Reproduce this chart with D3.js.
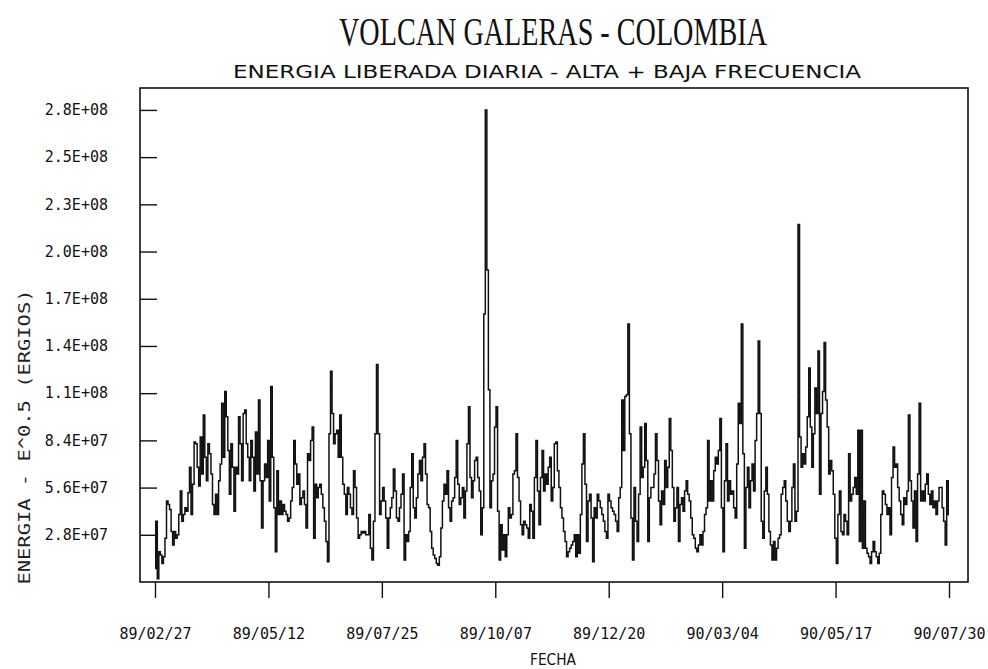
<!DOCTYPE html>
<html>
<head>
<meta charset="utf-8">
<script src="https://cdn.jsdelivr.net/npm/d3@7"></script>
<style>
  body { margin: 0; background: #fff; }
  svg { display: block; }
  .tick text { font-family: "DejaVu Sans Mono", monospace; font-size: 15px; fill: #111; }
  .tick line { stroke: #111; stroke-width: 1.4; }
</style>
</head>
<body>
<div id="chart"></div>
<script>
// fecha inicial de la serie diaria
const fechaInicio = "89/02/27";

// energia liberada diaria, en millones (E^0.5 ergios), un valor por dia
const energiaMillones = [
  8,36,2,18,16,11,15,26,48,46, 43,30,22,30,26,28,40,54,36,40,
  44,42,53,68,40,58,83,82,68,57, 86,64,99,74,60,82,76,64,46,40,
  52,40,60,70,106,74,113,98,78,52, 82,68,42,68,64,98,82,60,100,102,
  82,74,60,84,
  74,54,89,64,108,60,32,60,70,62, 84,48,116,74,44,18,66,40,48,40,
  46,42,40,36,38,48,56,84,70,58, 64,46,50,54,46,32,76,72,84,92,
  26,58,50,56,58,52,44,36,24,12, 88,125,100,82,88,90,74,99,74,58,
  52,40,56,52,44,40,
  66,56,38,26,28,30,29,30,28,28, 40,20,13,36,88,129,88,40,48,56,
  48,38,20,38,44,50,67,54,38,36, 44,52,64,13,28,24,30,56,76,44,
  38,50,64,72,60,74,82,64,46,44, 30,20,16,14,11,10,15,32,48,58,
  52,66,44,36,48,
  50,62,84,58,46,50,56,38,54,82, 104,62,50,60,72,74,62,54,28,44,
  159,280,185,114,44,60,64,92,104,42, 13,34,19,28,15,28,44,38,40,64,
  66,88,62,48,34,28,36,34,32,26, 46,42,26,62,84,54,34,62,78,54,
  64,58,68,74,48,
  56,82,83,66,56,44,38,30,24,15, 18,20,22,24,28,15,28,17,40,70,
  88,58,24,48,52,38,12,44,38,52, 48,44,40,36,30,26,52,48,44,42,
  40,36,30,50,56,108,78,110,111,153, 88,38,13,56,36,24,52,92,62,68,
  94,72,24,50,56,
  56,64,88,72,48,34,54,46,72,56, 68,97,78,56,36,44,56,24,46,50,
  42,54,60,52,48,38,28,26,20,18, 22,28,22,30,40,44,84,48,60,48,
  66,74,70,78,97,44,18,60,82,48, 60,52,54,44,38,70,106,94,153,76,
  20,56,68,44,60,
  70,54,84,100,143,100,36,26,54,68, 52,30,22,13,24,13,20,26,28,52,
  56,60,48,36,30,36,56,70,36,42, 212,86,68,76,70,80,98,127,92,68,
  88,115,100,137,52,100,113,142,108,92, 64,72,66,52,26,11,40,54,30,28,
  40,36,28,76,48,52,
  56,62,52,90,24,90,20,48,20,17, 15,11,18,24,18,15,11,17,40,54,
  52,46,40,44,28,62,80,68,70,56, 48,40,34,50,46,54,99,60,48,32,
  54,24,64,106,48,54,48,58,64,52, 46,54,44,48,40,48,56,56,44,36,
  22,60,40
];

const xTickLabels = ["89/02/27", "89/05/12", "89/07/25", "89/10/07", "89/12/20", "90/03/04", "90/05/17", "90/07/30"];
const yTickValues = [2.8e7, 5.6e7, 8.4e7, 1.12e8, 1.4e8, 1.68e8, 1.96e8, 2.24e8, 2.52e8, 2.8e8];
const yTickLabels = ["2.8E+07", "5.6E+07", "8.4E+07", "1.1E+08", "1.4E+08", "1.7E+08", "2.0E+08", "2.3E+08", "2.5E+08", "2.8E+08"];

const titulo = "VOLCAN GALERAS - COLOMBIA";
const subtitulo = "ENERGIA LIBERADA DIARIA - ALTA + BAJA FRECUENCIA";
const ejeX = "FECHA";
const ejeY = "ENERGIA - E^0.5 (ERGIOS)";

const W = 988, H = 669;
const frame = {left: 140, right: 968, top: 88, bottom: 582};

const parse = d3.utcParse("%y/%m/%d");
const t0 = parse(fechaInicio);
const serie = energiaMillones.map((v, i) => ({fecha: d3.utcDay.offset(t0, i), valor: v * 1e6}));
const tickDates = xTickLabels.map(parse);

const svg = d3.select("#chart").append("svg")
  .attr("width", W)
  .attr("height", H);

const x = d3.scaleUtc()
  .domain([tickDates[0], tickDates[tickDates.length - 1]])
  .range([155, 949]);

const y = d3.scaleLinear()
  .domain([0, 2.93e8])
  .range([frame.bottom, frame.top]);

// marco
svg.append("rect")
  .attr("x", frame.left)
  .attr("y", frame.top)
  .attr("width", frame.right - frame.left)
  .attr("height", frame.bottom - frame.top)
  .attr("fill", "none")
  .attr("stroke", "#111")
  .attr("stroke-width", 1.6);

// eje x
const fmtX = d3.utcFormat("%y/%m/%d");
const gx = svg.append("g")
  .attr("transform", `translate(0,${frame.bottom})`)
  .call(d3.axisBottom(x).tickValues(tickDates).tickFormat(fmtX).tickSize(16).tickPadding(30));
gx.select(".domain").remove();

// eje y, marcas hacia dentro
const gy = svg.append("g")
  .attr("transform", `translate(${frame.left},0)`)
  .call(d3.axisLeft(y).tickValues(yTickValues).tickFormat((d, i) => yTickLabels[i]).tickSize(-17).tickPadding(32));
gy.select(".domain").remove();

// serie
const line = d3.line()
  .x(d => x(d.fecha))
  .y(d => y(d.valor))
  .curve(d3.curveStep);

svg.append("path")
  .datum(serie)
  .attr("d", line)
  .attr("fill", "none")
  .attr("stroke", "#111")
  .attr("stroke-width", 1.5);

// textos
svg.append("text")
  .attr("x", 553).attr("y", 45)
  .attr("text-anchor", "middle")
  .attr("font-family", "Liberation Serif")
  .attr("font-size", 40)
  .attr("textLength", 428)
  .attr("lengthAdjust", "spacingAndGlyphs")
  .attr("fill", "#111")
  .text(titulo);

svg.append("text")
  .attr("x", 547).attr("y", 78)
  .attr("text-anchor", "middle")
  .attr("font-family", "DejaVu Sans")
  .attr("font-size", 18)
  .attr("textLength", 628)
  .attr("lengthAdjust", "spacingAndGlyphs")
  .attr("fill", "#111")
  .text(subtitulo);

svg.append("text")
  .attr("x", 553).attr("y", 665)
  .attr("text-anchor", "middle")
  .attr("font-family", "DejaVu Sans")
  .attr("font-size", 15)
  .attr("textLength", 46)
  .attr("lengthAdjust", "spacingAndGlyphs")
  .attr("fill", "#111")
  .text(ejeX);

svg.append("text")
  .attr("transform", "translate(30,437) rotate(-90)")
  .attr("text-anchor", "middle")
  .attr("font-family", "DejaVu Sans Mono")
  .attr("font-size", 15)
  .attr("textLength", 295)
  .attr("lengthAdjust", "spacingAndGlyphs")
  .attr("fill", "#222")
  .text(ejeY);
</script>
</body>
</html>
